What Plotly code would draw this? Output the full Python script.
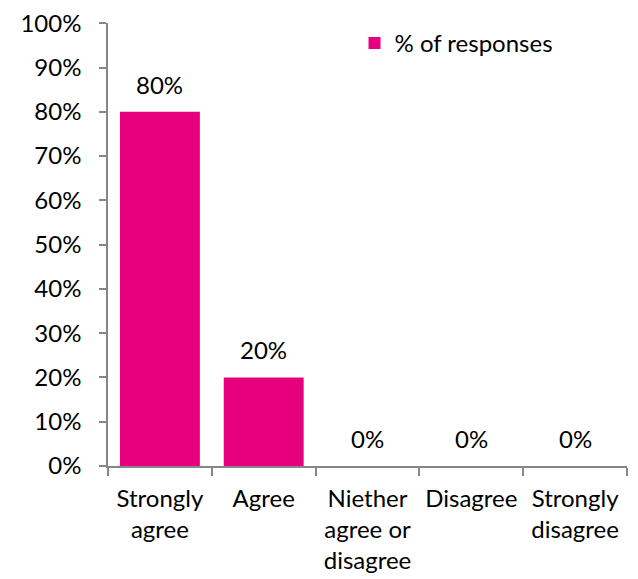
import plotly.graph_objects as go

categories = ["Strongly<br>agree", "Agree", "Niether<br>agree or<br>disagree", "Disagree", "Strongly<br>disagree"]
values = [0.80, 0.20, 0.0, 0.0, 0.0]
series_name = "% of responses"
y_ticks = [i / 10 for i in range(11)]
y_tick_labels = [f"{i * 10}%" for i in range(11)]

FONT = "Lato"
FS = 24
BAR = "#E6007E"
AXIS = "#868686"

fig = go.Figure()
fig.add_trace(go.Bar(
    x=categories, y=values, name=series_name,
    marker=dict(color=BAR, line=dict(width=0)),
    showlegend=True,
))

for c, v in zip(categories, values):
    fig.add_annotation(
        x=c, y=v, xref="x", yref="y", text=f"{round(v * 100)}%",
        showarrow=False, yanchor="bottom", yshift=11,
        font=dict(family=FONT, size=FS, color="#000000"),
    )

fig.update_layout(
    width=638, height=579,
    margin=dict(l=100, r=19, t=15, b=121, autoexpand=False),
    paper_bgcolor="white", plot_bgcolor="white",
    bargap=0.23,
    font=dict(family=FONT, size=FS, color="#000000"),
    legend=dict(x=0.475, y=1.005, xanchor="left", yanchor="top",
                font=dict(family=FONT, size=FS, color="#000000"),
                bgcolor="rgba(0,0,0,0)", itemwidth=30),
    xaxis=dict(
        automargin=False,
        showline=True, linecolor=AXIS, linewidth=1.5,
        ticks="outside", tickson="boundaries", ticklen=8, tickcolor=AXIS, tickwidth=1.5,
        ticklabelstandoff=10,
        showgrid=False, zeroline=False,
        tickfont=dict(family=FONT, size=FS, color="#000000"),
    ),
    yaxis=dict(
        automargin=False,
        range=[0, 1.0005], tickvals=y_ticks, ticktext=y_tick_labels,
        ticklabeloverflow="allow",
        showline=True, linecolor=AXIS, linewidth=1.5,
        ticks="outside", ticklen=7, tickcolor=AXIS, tickwidth=1.5,
        ticklabelstandoff=13,
        showgrid=False, zeroline=False,
        tickfont=dict(family=FONT, size=FS, color="#000000"),
    ),
)

fig.write_html("out.html")
